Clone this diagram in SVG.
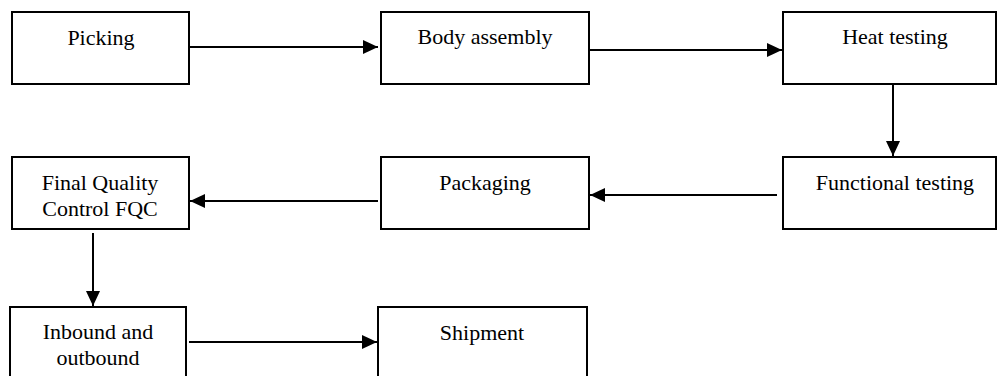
<svg xmlns="http://www.w3.org/2000/svg" width="997" height="376" viewBox="0 0 997 376">
<style>
.box{fill:#fff;stroke:#000;stroke-width:2}
.lbl{font-family:"Liberation Serif","Times New Roman",serif;font-size:22px;fill:#000;text-anchor:middle}
.con{stroke:#000;stroke-width:2;fill:none;marker-end:url(#ah)}
</style>
<defs>
<marker id="ah" markerUnits="userSpaceOnUse" markerWidth="16" markerHeight="14" refX="15" refY="7" orient="auto">
<path d="M0,0 L15,7 L0,14 z" fill="#000"/>
</marker>
</defs>
<rect width="997" height="376" fill="#fff"/>
<g id="picking"><rect class="box" x="12" y="12" width="177" height="72"/><text class="lbl" x="101" y="45">Picking</text></g>
<g id="body-assembly"><rect class="box" x="381" y="12" width="208" height="72"/><text class="lbl" x="485" y="44">Body assembly</text></g>
<g id="heat-testing"><rect class="box" x="783" y="12" width="213" height="72"/><text class="lbl" x="895" y="44">Heat testing</text></g>
<g id="functional-testing"><rect class="box" x="783" y="157" width="213" height="72"/><text class="lbl" x="895" y="190">Functional testing</text></g>
<g id="packaging"><rect class="box" x="381" y="157" width="208" height="72"/><text class="lbl" x="485" y="190">Packaging</text></g>
<g id="fqc"><rect class="box" x="12" y="157" width="177" height="72"/><text class="lbl" x="100" y="190">Final Quality</text><text class="lbl" x="100" y="216">Control FQC</text></g>
<g id="inbound-outbound"><rect class="box" x="10" y="307" width="176" height="75"/><text class="lbl" x="98" y="339">Inbound and</text><text class="lbl" x="98" y="365">outbound</text></g>
<g id="shipment"><rect class="box" x="378" y="307" width="209" height="75"/><text class="lbl" x="482" y="340">Shipment</text></g>
<g id="connectors">
<line class="con" x1="189" y1="47" x2="378" y2="47"/>
<line class="con" x1="589" y1="50" x2="782" y2="50"/>
<line class="con" x1="893" y1="84" x2="893" y2="156"/>
<line class="con" x1="777" y1="195" x2="590" y2="195"/>
<line class="con" x1="378" y1="201" x2="190" y2="201"/>
<line class="con" x1="93" y1="233" x2="93" y2="306"/>
<line class="con" x1="189" y1="342" x2="377" y2="342"/>
</g>
</svg>
